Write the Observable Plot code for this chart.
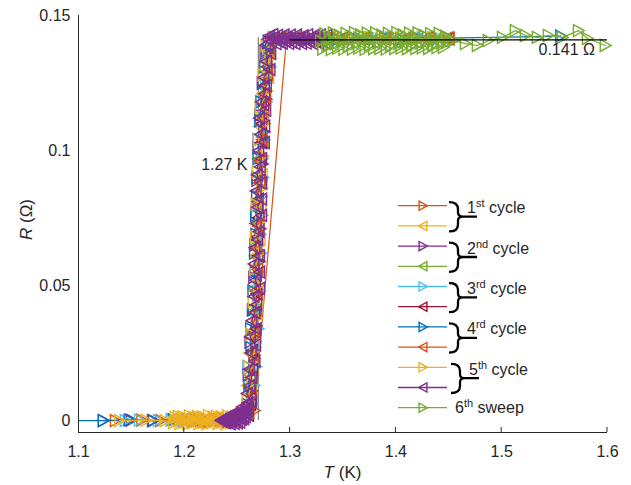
<!DOCTYPE html>
<html><head><meta charset="utf-8">
<script src="https://cdn.jsdelivr.net/npm/d3@7"></script>
<script src="https://cdn.jsdelivr.net/npm/@observablehq/plot@0.6"></script>
<style>body{margin:0;background:#fff}#chart{width:631px;height:485px}</style>
</head><body><div id="chart"></div>
<script>
const xDomain = [1.1, 1.6];
const yDomain = [-0.0044, 0.15];
const xTicks = [1.1, 1.2, 1.3, 1.4, 1.5, 1.6];
const yTicks = [0, 0.05, 0.1, 0.15];
const tcLine = [{T: 1.27, R0: 0, R1: 0.1418}];
const rnLine = [{R: 0.141, T0: 1.3, T1: 1.6}];
const noteLeft = [{T: 1.2597, R: 0.0948, text: "1.27 K"}];
const noteRight = [{T: 1.5348, R: 0.1374, text: "0.141 Ω"}];

// 1st cycle, warming
const c1w = [[1.135,0],[1.16,0.0002],[1.178,0],[1.195,0.0004],[1.21,-0.0002],[1.222,0.0005],[1.234,0],[1.244,0.0008],[1.252,0.001],[1.258,0.0015],[1.2663,0.0037],[1.2966,0.1415],[1.305,0.1412],[1.318,0.1418],[1.33,0.1414],[1.345,0.1417],[1.36,0.1413],[1.375,0.1418],[1.39,0.1415],[1.405,0.1417],[1.42,0.1414],[1.435,0.1416],[1.448,0.1415]];
// 1st cycle, cooling
const c1c = [[1.448,0.1413],[1.43,0.1418],[1.41,0.1412],[1.39,0.1417],[1.37,0.1413],[1.35,0.1418],[1.335,0.1414],[1.32,0.1419],[1.305,0.1413],[1.292,0.1417],[1.284,0.1412],[1.2808,0.139],[1.276,0.133],[1.2795,0.127],[1.2738,0.121],[1.2772,0.115],[1.2708,0.109],[1.2748,0.103],[1.2695,0.097],[1.2735,0.091],[1.268,0.085],[1.2722,0.079],[1.2672,0.073],[1.2715,0.067],[1.2665,0.061],[1.2708,0.055],[1.2655,0.049],[1.2695,0.043],[1.264,0.037],[1.2678,0.031],[1.2615,0.025],[1.2655,0.019],[1.2595,0.013],[1.2635,0.008],[1.258,0.004],[1.25,0.0012],[1.244,0.0006],[1.238,-0.0004],[1.232,0.0009],[1.226,-0.0002],[1.22,0.0007],[1.214,-0.0005],[1.208,0.0004],[1.202,-0.0003],[1.197,0.0002]];
// 2nd cycle, warming
const c2w = [[1.1236,0],[1.15,0.0002],[1.171,0],[1.188,0.0003],[1.2,0],[1.21,0.0005],[1.22,-0.0003],[1.23,0.0006],[1.238,0.0002],[1.245,0.001],[1.25,0.0004],[1.255,0.0012],[1.2585,0.002],[1.2598,0.005],[1.2638,0.011],[1.2605,0.017],[1.266,0.023],[1.2622,0.029],[1.2682,0.035],[1.2645,0.041],[1.27,0.047],[1.2658,0.053],[1.271,0.059],[1.2668,0.065],[1.2718,0.071],[1.2678,0.077],[1.2728,0.083],[1.2688,0.089],[1.274,0.095],[1.2698,0.101],[1.2755,0.107],[1.2715,0.113],[1.2775,0.119],[1.2738,0.125],[1.2805,0.131],[1.2765,0.136],[1.2815,0.1405],[1.286,0.1418],[1.295,0.1412],[1.305,0.1419],[1.318,0.1413],[1.33,0.1417],[1.345,0.1412],[1.36,0.1418],[1.375,0.1414],[1.39,0.1419],[1.405,0.1413],[1.42,0.1417],[1.435,0.1412],[1.448,0.1416]];
// 2nd cycle, cooling
const c2c = [[1.448,0.1416],[1.43,0.1412],[1.41,0.1418],[1.39,0.1413],[1.37,0.1417],[1.35,0.1412],[1.335,0.1418],[1.32,0.1414],[1.305,0.1418],[1.292,0.1413],[1.284,0.1416],[1.28,0.137],[1.2772,0.129],[1.276,0.121],[1.2728,0.113],[1.2735,0.105],[1.2705,0.097],[1.2712,0.089],[1.2685,0.081],[1.27,0.073],[1.2675,0.065],[1.269,0.057],[1.266,0.049],[1.2675,0.041],[1.264,0.033],[1.2652,0.025],[1.2615,0.017],[1.263,0.01],[1.26,0.004],[1.254,0.0012],[1.247,0.0004],[1.24,0.0009],[1.232,-0.0002],[1.224,0.0006],[1.216,-0.0004],[1.208,0.0005],[1.2,0]];
// 3rd cycle, warming
const c3w = [[1.1444,0],[1.1577,0.0002],[1.1756,0],[1.188,0.0003],[1.198,0],[1.208,0.0004],[1.218,-0.0002],[1.228,0.0005],[1.236,0.0001],[1.244,0.0008],[1.25,0.0004],[1.256,0.0011],[1.26,0.0018],[1.2642,0.006],[1.2662,0.013],[1.2678,0.02],[1.2668,0.027],[1.27,0.034],[1.2688,0.041],[1.2715,0.048],[1.2705,0.055],[1.2728,0.062],[1.2718,0.069],[1.2735,0.076],[1.2725,0.083],[1.2745,0.09],[1.2738,0.097],[1.2758,0.104],[1.275,0.111],[1.2778,0.118],[1.277,0.125],[1.281,0.131],[1.28,0.137],[1.2825,0.1405],[1.288,0.1416],[1.298,0.1412],[1.31,0.1418],[1.323,0.1413],[1.336,0.1417],[1.35,0.1413],[1.365,0.1418],[1.38,0.1414],[1.395,0.1417],[1.41,0.1413],[1.425,0.1418],[1.44,0.1414],[1.45,0.1416]];
// 3rd cycle, cooling
const c3c = [[1.45,0.1414],[1.43,0.1418],[1.41,0.1413],[1.39,0.1417],[1.37,0.1412],[1.35,0.1418],[1.335,0.1413],[1.32,0.1417],[1.305,0.1412],[1.292,0.1418],[1.283,0.1415],[1.279,0.138],[1.278,0.131],[1.2755,0.124],[1.2748,0.117],[1.2728,0.11],[1.2728,0.103],[1.2712,0.096],[1.2715,0.089],[1.2698,0.082],[1.2705,0.075],[1.2688,0.068],[1.2695,0.061],[1.2678,0.054],[1.2685,0.047],[1.2665,0.04],[1.2668,0.033],[1.2642,0.026],[1.2645,0.019],[1.2622,0.012],[1.2625,0.006],[1.2605,0.002],[1.255,0.001],[1.248,0.0003],[1.24,0.0008],[1.232,-0.0002],[1.224,0.0005],[1.216,-0.0003],[1.208,0.0004],[1.2,0]];
// 4th cycle, warming
const c4w = [[1.095,0],[1.1236,0],[1.148,0.0002],[1.17,0],[1.19,0.0003],[1.203,0],[1.214,0.0005],[1.225,-0.0002],[1.234,0.0006],[1.242,0.0002],[1.249,0.001],[1.255,0.0006],[1.259,0.0015],[1.2598,0.006],[1.2612,0.013],[1.2605,0.02],[1.2632,0.027],[1.2628,0.034],[1.2652,0.041],[1.265,0.048],[1.2668,0.055],[1.2665,0.062],[1.2678,0.069],[1.2675,0.076],[1.2685,0.083],[1.2688,0.09],[1.2698,0.097],[1.27,0.104],[1.2715,0.111],[1.2725,0.118],[1.2742,0.125],[1.2762,0.131],[1.278,0.137],[1.2795,0.1405],[1.287,0.1414],[1.3,0.1418],[1.315,0.1413],[1.33,0.1417],[1.345,0.1412],[1.36,0.1418],[1.375,0.1413],[1.39,0.1417],[1.405,0.1412],[1.42,0.1418],[1.435,0.1413],[1.45,0.1416],[1.556,0.1424]];
// 4th cycle, cooling
const c4c = [[1.45,0.1417],[1.43,0.1412],[1.41,0.1418],[1.39,0.1413],[1.37,0.1418],[1.35,0.1412],[1.335,0.1417],[1.32,0.1413],[1.305,0.1418],[1.292,0.1412],[1.284,0.1416],[1.2808,0.136],[1.2785,0.128],[1.2768,0.12],[1.2745,0.112],[1.2735,0.104],[1.2718,0.096],[1.2712,0.088],[1.2698,0.08],[1.27,0.072],[1.2685,0.064],[1.2692,0.056],[1.2672,0.048],[1.2678,0.04],[1.265,0.032],[1.2655,0.024],[1.2625,0.016],[1.2635,0.009],[1.261,0.003],[1.255,0.0008],[1.248,0.0002],[1.241,0.0009],[1.234,-0.0003],[1.227,0.0006],[1.22,-0.0002],[1.213,0.0005],[1.206,0],[1.2,0.0003]];
// 5th cycle, warming
const c5w = [[1.139,0],[1.164,0.0002],[1.182,0],[1.19,-0.0008],[1.1915,0.0012],[1.193,-0.0002],[1.1945,0.0016],[1.196,-0.0011],[1.1975,0.0005],[1.199,0.0014],[1.2005,-0.0005],[1.202,0.0009],[1.2035,-0.0012],[1.205,0.0018],[1.2065,0.0002],[1.208,-0.0008],[1.2095,0.0012],[1.211,-0.0002],[1.2125,0.0016],[1.214,-0.0011],[1.2155,0.0005],[1.217,0.0014],[1.2185,-0.0005],[1.22,0.0009],[1.2215,-0.0012],[1.223,0.0018],[1.2245,0.0002],[1.226,-0.0008],[1.2275,0.0012],[1.229,-0.0002],[1.2305,0.0016],[1.232,-0.0011],[1.2335,0.0005],[1.235,0.0014],[1.2365,-0.0005],[1.238,0.0009],[1.2395,-0.0012],[1.241,0.0018],[1.2425,0.0002],[1.244,-0.0008],[1.2455,0.0012],[1.247,-0.0002],[1.2485,0.0016],[1.25,-0.0006],[1.2515,0.0008],[1.253,0.0022],[1.2545,0.0004],[1.256,0.0028],[1.2575,0.0015],[1.259,0.0045],[1.2595,0.008],[1.2642,0.014],[1.261,0.02],[1.2665,0.026],[1.263,0.032],[1.2688,0.038],[1.2652,0.044],[1.2702,0.05],[1.2665,0.056],[1.271,0.062],[1.2672,0.068],[1.2722,0.074],[1.268,0.08],[1.2732,0.086],[1.269,0.092],[1.2745,0.098],[1.2702,0.104],[1.276,0.11],[1.2718,0.116],[1.2782,0.122],[1.2745,0.128],[1.281,0.134],[1.2775,0.139],[1.284,0.1419],[1.292,0.1413],[1.3,0.1418],[1.31,0.1412],[1.32,0.1417],[1.33,0.1413],[1.345,0.1419],[1.36,0.1413],[1.375,0.1418],[1.39,0.1412],[1.405,0.1418],[1.42,0.1413],[1.435,0.1417],[1.448,0.1414]];
// 5th cycle, cooling
const c5c = [[1.336,0.1412],[1.3345,0.1426],[1.333,0.1398],[1.3315,0.1418],[1.33,0.1405],[1.3285,0.1428],[1.327,0.1397],[1.3255,0.1415],[1.324,0.1403],[1.3225,0.1426],[1.321,0.1396],[1.3195,0.1418],[1.318,0.1406],[1.3165,0.1428],[1.315,0.1398],[1.3135,0.1412],[1.312,0.1425],[1.3105,0.1397],[1.309,0.1416],[1.3075,0.1405],[1.306,0.1428],[1.3045,0.1396],[1.303,0.1414],[1.3015,0.1402],[1.3,0.1427],[1.2985,0.1397],[1.297,0.1418],[1.2955,0.1406],[1.294,0.1428],[1.2925,0.1398],[1.291,0.1415],[1.2895,0.1403],[1.288,0.1426],[1.2865,0.1396],[1.285,0.1418],[1.2835,0.1429],[1.282,0.1404],[1.2805,0.1425],[1.279,0.1412],[1.2765,0.139],[1.2815,0.136],[1.2775,0.133],[1.2808,0.13],[1.2751,0.127],[1.2774,0.124],[1.2758,0.121],[1.2726,0.118],[1.2764,0.115],[1.2708,0.112],[1.2758,0.109],[1.2719,0.106],[1.2755,0.103],[1.2702,0.1],[1.2729,0.097],[1.2716,0.094],[1.2688,0.091],[1.273,0.088],[1.2677,0.085],[1.2729,0.082],[1.2692,0.079],[1.2729,0.076],[1.2677,0.073],[1.2705,0.07],[1.2693,0.067],[1.2666,0.064],[1.2709,0.061],[1.2657,0.058],[1.271,0.055],[1.2672,0.052],[1.2709,0.049],[1.2656,0.046],[1.2682,0.043],[1.2667,0.04],[1.2637,0.037],[1.2677,0.034],[1.2622,0.031],[1.2672,0.028],[1.2631,0.025],[1.2666,0.022],[1.2612,0.019],[1.2637,0.016],[1.262,0.013],[1.2592,0.01],[1.2634,0.007],[1.2581,0.004],[1.2605,0.0045],[1.2598,0.0065],[1.259,0.0025],[1.2582,0.0055],[1.2575,0.0015],[1.2567,0.004],[1.256,0.0008],[1.2552,0.003],[1.2545,0.005],[1.2537,0.0005],[1.253,0.0022],[1.2522,-0.0005],[1.2515,0.0035],[1.2507,0.0012],[1.25,-0.0008],[1.2492,0.0025],[1.2485,0.0005],[1.2477,0.0018],[1.247,-0.001],[1.2462,0.0008],[1.2455,0.0025],[1.2447,-0.0004],[1.244,0.0012],[1.2432,-0.0012],[1.2425,0.0006],[1.2417,0.0018],[1.241,-0.0006],[1.2402,0.001],[1.2395,0.0002],[1.2387,-0.0008],[1.238,0.0008],[1.2372,0.0002],[1.2365,-0.0004],[1.2355,0.0004],[1.2345,0]];
// 6th sweep, warming
const c6w = [[1.329,0.1405],[1.331,0.1376],[1.333,0.1432],[1.335,0.1388],[1.337,0.1415],[1.339,0.1374],[1.341,0.1436],[1.343,0.1396],[1.345,0.1379],[1.347,0.1426],[1.349,0.1405],[1.351,0.1375],[1.353,0.1434],[1.355,0.1388],[1.357,0.1416],[1.359,0.1376],[1.361,0.1437],[1.363,0.1397],[1.365,0.1379],[1.367,0.1428],[1.369,0.1408],[1.371,0.1375],[1.373,0.1435],[1.375,0.139],[1.377,0.1416],[1.379,0.1377],[1.381,0.1436],[1.383,0.1398],[1.385,0.1378],[1.387,0.1427],[1.389,0.1406],[1.391,0.1376],[1.393,0.1434],[1.395,0.1389],[1.397,0.1418],[1.399,0.1378],[1.401,0.1437],[1.403,0.1396],[1.405,0.1379],[1.407,0.1428],[1.409,0.1405],[1.411,0.1377],[1.413,0.1435],[1.415,0.139],[1.417,0.1416],[1.419,0.1378],[1.421,0.1436],[1.423,0.1398],[1.425,0.138],[1.427,0.1426],[1.429,0.1404],[1.431,0.1378],[1.433,0.1433],[1.435,0.1391],[1.437,0.1416],[1.439,0.1381],[1.441,0.1434],[1.443,0.1398],[1.445,0.1382],[1.447,0.1424],[1.449,0.1402],[1.4544,0.1407],[1.4658,0.1396],[1.4771,0.1389],[1.4875,0.1407],[1.5008,0.1419],[1.513,0.1444],[1.5225,0.1426],[1.5338,0.1419],[1.5442,0.1426],[1.5575,0.1419],[1.5726,0.1444],[1.5811,0.1415],[1.598,0.1389]];

const series = [
  {data: c1w, color: "#D95319", dir: "right", label: ["1", "st", " cycle"]},
  {data: c1c, color: "#EDB120", dir: "left"},
  {data: c2w, color: "#7E2F8E", dir: "right", label: ["2", "nd", " cycle"]},
  {data: c2c, color: "#77AC30", dir: "left"},
  {data: c3w, color: "#4DBEEE", dir: "right", label: ["3", "rd", " cycle"]},
  {data: c3c, color: "#A2142F", dir: "left"},
  {data: c4w, color: "#0072BD", dir: "right", label: ["4", "rd", " cycle"]},
  {data: c4c, color: "#D95319", dir: "left"},
  {data: c5w, color: "#EDB120", dir: "right", label: ["5", "th", " cycle"]},
  {data: c5c, color: "#7E2F8E", dir: "left"},
  {data: c6w, color: "#77AC30", dir: "right", label: ["6", "th", " sweep"]}
];

const triRight = {draw(ctx, size) { const r = Math.sqrt(size / Math.PI); ctx.moveTo(-r * 0.85, -r); ctx.lineTo(r * 0.95, 0); ctx.lineTo(-r * 0.85, r); ctx.closePath(); }};
const triLeft = {draw(ctx, size) { const r = Math.sqrt(size / Math.PI); ctx.moveTo(r * 0.85, -r); ctx.lineTo(-r * 0.95, 0); ctx.lineTo(r * 0.85, r); ctx.closePath(); }};

const font = "'Liberation Sans', Arial, Helvetica, sans-serif";
const axisColor = "#262626";

const dataMarks = series.flatMap(s => [
  Plot.line(s.data, {x: d => d[0], y: d => d[1], stroke: s.color, strokeWidth: 1.2, clip: true}),
  Plot.dot(s.data.filter(d => d[0] >= xDomain[0]), {x: d => d[0], y: d => d[1], symbol: s.dir === "right" ? triRight : triLeft, r: 6, stroke: s.color, strokeWidth: 1.4, fill: "none"})
]);

const chart = Plot.plot({
  width: 631, height: 485,
  marginLeft: 78, marginRight: 24, marginTop: 15, marginBottom: 53,
  x: {domain: xDomain}, y: {domain: yDomain},
  style: {fontFamily: font, fontSize: "16px", color: axisColor, background: "white", overflow: "visible"},
  marks: [
    Plot.ruleX(tcLine, {x: "T", y1: "R0", y2: "R1", stroke: "#8a8a8a", strokeWidth: 1.3}),
    ...dataMarks,
    Plot.ruleY(rnLine, {y: "R", x1: "T0", x2: "T1", stroke: "#000", strokeWidth: 1.2}),
    Plot.text(noteLeft, {x: "T", y: "R", text: "text", textAnchor: "end", fontSize: 16, fill: axisColor}),
    Plot.text(noteRight, {x: "T", y: "R", text: "text", textAnchor: "start", fontSize: 16, fill: axisColor}),
    Plot.axisX({ticks: xTicks, tickFormat: d => d.toFixed(1), tickSize: 0, tickPadding: 13, label: null, fontSize: 16}),
    Plot.axisY({ticks: yTicks, tickFormat: d => String(d), tickSize: 0, tickPadding: 8, label: null, fontSize: 16}),
    Plot.ruleX([xDomain[0]], {y1: yDomain[0], y2: yDomain[1], stroke: axisColor, strokeWidth: 1}),
    Plot.ruleY([yDomain[0]], {x1: xDomain[0], x2: xDomain[1], stroke: axisColor, strokeWidth: 1})
  ]
});
document.getElementById("chart").appendChild(chart);

// decorations drawn with the plot's own scales
const svg = d3.select(chart);
const xs = chart.scale("x"), ys = chart.scale("y");
const sx = d3.scaleLinear(xs.domain, xs.range), sy = d3.scaleLinear(ys.domain, ys.range);
const y0 = sy(yDomain[0]);
svg.append("g").selectAll("line").data(xTicks.slice(1)).join("line")
  .attr("x1", d => sx(d)).attr("x2", d => sx(d)).attr("y1", y0).attr("y2", y0 - 5)
  .attr("stroke", axisColor).attr("stroke-width", 1);

// axis titles
const xt = svg.append("text").attr("x", (sx(xDomain[0]) + sx(xDomain[1])) / 2).attr("y", 478)
  .attr("text-anchor", "middle").attr("font-family", font).attr("font-size", 17).attr("fill", axisColor);
xt.append("tspan").attr("font-style", "italic").text("T");
xt.append("tspan").text(" (K)");
const yt = svg.append("text").attr("transform", `translate(32,${(sy(yDomain[0]) + sy(yDomain[1])) / 2 - 4}) rotate(-90)`)
  .attr("text-anchor", "middle").attr("font-family", font).attr("font-size", 17).attr("fill", axisColor);
yt.append("tspan").attr("font-style", "italic").text("R");
yt.append("tspan").text(" (Ω)");

// legend
const lg = svg.append("g").attr("font-family", font).attr("font-size", 16).attr("fill", axisColor).attr("text-anchor", "start");
const rowY = i => 205.7 + i * 20.2;
const lx0 = 398, lx1 = 447, lm = 423;
series.forEach((s, i) => {
  const y = rowY(i);
  lg.append("line").attr("x1", lx0).attr("x2", lx1).attr("y1", y).attr("y2", y).attr("stroke", s.color).attr("stroke-width", 1.3);
  const p = d3.path(); (s.dir === "right" ? triRight : triLeft).draw(p, 4.6 * 4.6 * Math.PI);
  lg.append("path").attr("d", p.toString()).attr("transform", `translate(${lm},${y})`).attr("fill", "none").attr("stroke", s.color).attr("stroke-width", 1.4);
});
for (let k = 0; k < 5; k++) {
  const i = 2 * k, yt0 = rowY(i) - 3.5, yb = rowY(i + 1) + 5.5, ym = (rowY(i) + rowY(i + 1)) / 2 + 0.8;
  const x0 = 449 + (k === 4 ? 2 : 0), xv = x0 + 9;
  const d = `M${x0},${yt0} Q${xv},${yt0} ${xv},${yt0 + 7} L${xv},${ym - 4} Q${xv},${ym} ${xv + 5},${ym} L${xv + 19},${ym} M${xv + 5},${ym} Q${xv},${ym} ${xv},${ym + 4} L${xv},${yb - 7} Q${xv},${yb} ${x0},${yb}`;
  lg.append("path").attr("d", d).attr("fill", "none").attr("stroke", "#000").attr("stroke-width", 2.3);
  const lab = series[i].label;
  const t = lg.append("text").attr("x", 467 + (k === 4 ? 2 : 0)).attr("y", rowY(i) + 7.5);
  t.append("tspan").text(lab[0]);
  t.append("tspan").attr("dy", -6).attr("font-size", 11).text(lab[1]);
  t.append("tspan").attr("dy", 6).text(lab[2]);
}
{
  const lab = series[10].label;
  const t = lg.append("text").attr("x", 455).attr("y", rowY(10) + 5.5);
  t.append("tspan").text(lab[0]);
  t.append("tspan").attr("dy", -6).attr("font-size", 11).text(lab[1]);
  t.append("tspan").attr("dy", 6).text(lab[2]);
}
</script></body></html>
